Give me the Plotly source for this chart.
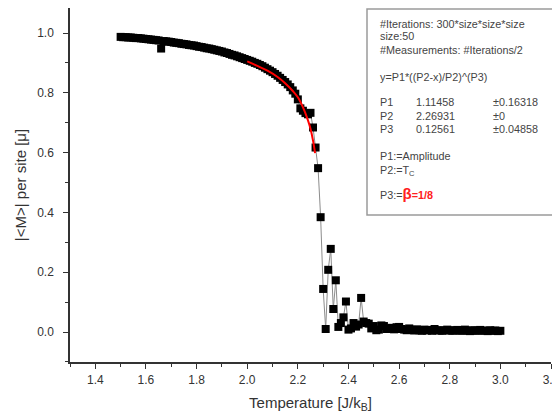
import plotly.graph_objects as go

# measured |<M>| per site vs temperature (L=50)
temps = [
    1.50, 1.51, 1.52, 1.53, 1.54, 1.55, 1.56, 1.57, 1.58, 1.59,
    1.60, 1.61, 1.62, 1.63, 1.64, 1.65, 1.66, 1.67, 1.68, 1.69,
    1.70, 1.71, 1.72, 1.73, 1.74, 1.75, 1.76, 1.77, 1.78, 1.79,
    1.80, 1.81, 1.82, 1.83, 1.84, 1.85, 1.86, 1.87, 1.88, 1.89,
    1.90, 1.91, 1.92, 1.93, 1.94, 1.95, 1.96, 1.97, 1.98, 1.99,
    2.00, 2.01, 2.02, 2.03, 2.04, 2.05, 2.06, 2.07, 2.08, 2.09,
    2.10, 2.11, 2.12, 2.13, 2.14, 2.15, 2.16, 2.17, 2.18, 2.19,
    2.20, 2.21, 2.22, 2.23, 2.24, 2.25, 2.26, 2.27, 2.28, 2.29,
    2.30, 2.31, 2.32, 2.33, 2.34, 2.35, 2.36, 2.37, 2.38, 2.39,
    2.40, 2.41, 2.42, 2.43, 2.44, 2.45, 2.46, 2.47, 2.48, 2.49,
    2.50, 2.51, 2.52, 2.53, 2.54, 2.55, 2.56, 2.57, 2.58, 2.59,
    2.60, 2.61, 2.62, 2.63, 2.64, 2.65, 2.66, 2.67, 2.68, 2.69,
    2.70, 2.71, 2.72, 2.73, 2.74, 2.75, 2.76, 2.77, 2.78, 2.79,
    2.80, 2.81, 2.82, 2.83, 2.84, 2.85, 2.86, 2.87, 2.88, 2.89,
    2.90, 2.91, 2.92, 2.93, 2.94, 2.95, 2.96, 2.97, 2.98, 2.99,
    3.00,
]
magnet = [
    0.987, 0.986, 0.986, 0.985, 0.985, 0.984, 0.983, 0.983, 0.982, 0.981,
    0.980, 0.979, 0.978, 0.977, 0.976, 0.975, 0.948, 0.973, 0.972, 0.971,
    0.970, 0.968, 0.967, 0.966, 0.964, 0.963, 0.962, 0.960, 0.959, 0.958,
    0.956, 0.954, 0.953, 0.951, 0.949, 0.948, 0.946, 0.944, 0.942, 0.940,
    0.938, 0.935, 0.933, 0.930, 0.927, 0.925, 0.922, 0.919, 0.916, 0.913,
    0.910, 0.907, 0.904, 0.900, 0.897, 0.893, 0.889, 0.884, 0.879, 0.874,
    0.869, 0.863, 0.857, 0.850, 0.843, 0.836, 0.828, 0.819, 0.808, 0.797,
    0.778, 0.748, 0.740, 0.732, 0.728, 0.733, 0.684, 0.617, 0.548, 0.384,
    0.144, 0.010, 0.208, 0.278, 0.077, 0.173, 0.017, 0.030, 0.049, 0.102,
    0.008, 0.012, 0.030, 0.018, 0.025, 0.114, 0.035, 0.030, 0.028, 0.012,
    0.020, 0.006, 0.008, 0.022, 0.020, 0.010, 0.012, 0.014, 0.009, 0.016,
    0.017, 0.010, 0.008, 0.006, 0.012, 0.007, 0.005, 0.009, 0.006, 0.004,
    0.008, 0.005, 0.007, 0.004, 0.010, 0.006, 0.005, 0.004, 0.006, 0.008,
    0.005, 0.004, 0.006, 0.007, 0.004, 0.005, 0.008, 0.004, 0.003, 0.006,
    0.005, 0.004, 0.007, 0.005, 0.004, 0.003, 0.006, 0.004, 0.005, 0.003,
    0.004,
]

# fitted curve y=P1*((P2-x)/P2)^(P3), as drawn
fit_t = [2.00, 2.04, 2.08, 2.12, 2.15, 2.18, 2.20, 2.22, 2.24, 2.25, 2.26, 2.268]
fit_m = [0.905, 0.890, 0.874, 0.853, 0.832, 0.806, 0.785, 0.752, 0.708, 0.680, 0.640, 0.598]

info_lines = [
    "#Iterations: 300*size*size*size",
    "size:50",
    "#Measurements: #Iterations/2",
    "y=P1*((P2-x)/P2)^(P3)",
]
param_names = ["P1", "P2", "P3"]
param_values = ["1.11458", "2.26931", "0.12561"]
param_errors = ["\u00b10.16318", "\u00b10", "\u00b10.04858"]
legend_lines = [
    "P1:=Amplitude",
    "P2:=T<sub>C</sub>",
    "P3:=<span style='color:#ff2020'><b><span style='font-size:15px'>\u03b2</span>=1/8</b></span>",
]

# page has an 8px body margin, so the figure is shifted by (8, 8)
OFF = 8
W, H = 552, 410
L, R, T, B = 62, 9, 0, 56
PW, PH = W - L - R, H - T - B


def px(x):
    # page pixel -> paper x
    return (x - OFF - L) / PW


def py(y):
    # page pixel -> paper y
    return (H - B - (y - OFF)) / PH


fig = go.Figure()
fig.add_trace(go.Scatter(
    x=temps, y=magnet, mode="lines+markers",
    line=dict(color="#8c8c8c", width=1),
    marker=dict(symbol="square", size=8, color="black", line=dict(width=0)),
    showlegend=False,
))
fig.add_trace(go.Scatter(
    x=fit_t, y=fit_m, mode="lines",
    line=dict(color="#ff0000", width=2, shape="spline"),
    showlegend=False,
))

font_txt = dict(family="Liberation Sans, Arial, sans-serif", size=10.8, color="#444444")
ann = []
for txt, y in zip(info_lines, [24, 36, 50, 77]):
    ann.append(dict(text=txt, x=px(378), y=py(y)))
for i, y in enumerate([102, 116, 129]):
    ann.append(dict(text=param_names[i], x=px(378), y=py(y)))
    ann.append(dict(text=param_values[i], x=px(414), y=py(y)))
    ann.append(dict(text=param_errors[i], x=px(491), y=py(y)))
for txt, y in zip(legend_lines, [156, 171, 193]):
    ann.append(dict(text=txt, x=px(378), y=py(y)))
for a in ann:
    a.update(xref="paper", yref="paper", xanchor="left", yanchor="middle",
             showarrow=False, font=font_txt)

fig.update_layout(
    width=W, height=H,
    margin=dict(l=L, r=R, t=T, b=B),
    paper_bgcolor="white", plot_bgcolor="white",
    font=dict(family="Liberation Sans, Arial, sans-serif", size=12, color="#333333"),
    annotations=ann,
    shapes=[dict(type="rect", xref="paper", yref="paper",
                 x0=px(367), x1=px(553), y0=py(215), y1=py(9),
                 line=dict(color="#9a9a9a", width=1.5), fillcolor="rgba(0,0,0,0)")],
    xaxis=dict(
        range=[1.3, 3.2], tickvals=[1.4, 1.6, 1.8, 2.0, 2.2, 2.4, 2.6, 2.8, 3.0, 3.2],
        ticktext=["1.4", "1.6", "1.8", "2.0", "2.2", "2.4", "2.6", "2.8", "3.0", "3.2"],
        showgrid=False, zeroline=False, showline=True, linecolor="#333333", linewidth=1.5,
        ticks="outside", ticklen=5, tickwidth=1.2, tickcolor="#333333",
        minor=dict(tickvals=[1.3, 1.5, 1.7, 1.9, 2.1, 2.3, 2.5, 2.7, 2.9, 3.1],
                   ticks="outside", ticklen=3, tickwidth=1, tickcolor="#333333"),
        title=dict(text="Temperature [J/k<sub>B</sub>]", font=dict(size=15, color="#333333"), standoff=11),
        ticklabelstandoff=1, ticklabeloverflow="allow",
    ),
    yaxis=dict(
        range=[-0.1003, 1.0836], tickvals=[0.0, 0.2, 0.4, 0.6, 0.8, 1.0],
        ticktext=["0.0", "0.2", "0.4", "0.6", "0.8", "1.0"],
        showgrid=False, zeroline=False, showline=True, linecolor="#333333", linewidth=1.5,
        ticks="outside", ticklen=5, tickwidth=1.2, tickcolor="#333333",
        minor=dict(tickvals=[-0.1, 0.1, 0.3, 0.5, 0.7, 0.9],
                   ticks="outside", ticklen=3, tickwidth=1, tickcolor="#333333"),
        title=dict(text="|&lt;M&gt;| per site [\u03bc]", font=dict(size=15, color="#333333"), standoff=7),
        ticklabelstandoff=7,
    ),
)

fig.write_html("out.html")
